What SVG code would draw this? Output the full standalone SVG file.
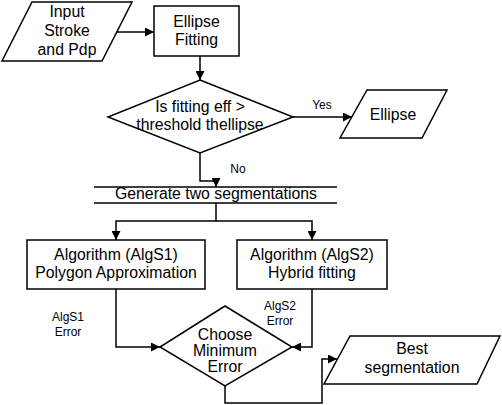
<svg xmlns="http://www.w3.org/2000/svg" width="502" height="405" viewBox="0 0 502 405">
<defs>
<marker id="arr" markerUnits="userSpaceOnUse" markerWidth="9" markerHeight="9" refX="9" refY="4.5" orient="auto">
<path d="M0,0 L9,4.5 L0,9 z" fill="#000"/>
</marker>
</defs>
<style>
.s{fill:#fff;stroke:#000;stroke-width:1.5}
.c{fill:none;stroke:#000;stroke-width:1.5;marker-end:url(#arr)}
.l{fill:none;stroke:#000;stroke-width:1.5}
text{font-family:"Liberation Sans",Arial,sans-serif;font-size:15.8px;fill:#000;text-anchor:middle}
.sm{font-size:12px}
</style>
<rect width="502" height="405" fill="#fff"/>
<g id="connectors">
<path class="c" d="M117,32 L154,32"/>
<path class="c" d="M200,56 L200,80"/>
<path class="c" d="M293,117 L352,117"/>
<path class="c" d="M200,153 L200,181 L216,181 L216,187"/>
<path class="c" d="M216,203 L216,221 L116,221 L116,240"/>
<path class="c" d="M216,221 L312,221 L312,240"/>
<path class="c" d="M116,289 L116,347 L160,347"/>
<path class="c" d="M312,289 L312,347 L292,347"/>
<path class="c" d="M225,386 L225,403 L322,403 L322,359 L337,359"/>
<text class="sm" x="322" y="109">Yes</text>
<text class="sm" x="238" y="173">No</text>
<text class="sm" x="68" y="321">AlgS1</text>
<text class="sm" x="68" y="336">Error</text>
<text class="sm" x="280" y="310">AlgS2</text>
<text class="sm" x="280" y="325">Error</text>
</g>
<g id="input">
<polygon class="s" points="32,2 132,2 102,61 2,61"/>
<text x="67" y="17">Input</text>
<text x="67" y="36">Stroke</text>
<text x="67" y="55">and Pdp</text>
</g>
<g id="ellipse-fitting">
<rect class="s" x="154" y="6" width="85" height="50"/>
<text x="196.5" y="27">Ellipse</text>
<text x="196.5" y="45">Fitting</text>
</g>
<g id="decision-fitting">
<polygon class="s" points="200,80 293,117 200,153 108,117"/>
<text x="200" y="112">Is fitting eff &gt;</text>
<text x="200" y="130">threshold thellipse</text>
</g>
<g id="ellipse-out">
<polygon class="s" points="367,90 447,90 422,138 340,138"/>
<text x="393" y="120">Ellipse</text>
</g>
<g id="generate">
<line class="l" x1="94" y1="187" x2="337" y2="187"/>
<line class="l" x1="94" y1="203" x2="337" y2="203"/>
<text x="216" y="199">Generate two segmentations</text>
</g>
<g id="algs1">
<rect class="s" x="27" y="240" width="178" height="49"/>
<text x="116" y="260">Algorithm (AlgS1)</text>
<text x="116" y="278">Polygon Approximation</text>
</g>
<g id="algs2">
<rect class="s" x="237" y="240" width="150" height="49"/>
<text x="312" y="260">Algorithm (AlgS2)</text>
<text x="312" y="278">Hybrid fitting</text>
</g>
<g id="choose">
<polygon class="s" points="225,306 292,347 225,386 160,347"/>
<text x="225" y="340">Choose</text>
<text x="225" y="356">Minimum</text>
<text x="225" y="372">Error</text>
</g>
<g id="best">
<polygon class="s" points="350,336 500,336 477,384 324,384"/>
<text x="412" y="354">Best</text>
<text x="412" y="373">segmentation</text>
</g>
</svg>
